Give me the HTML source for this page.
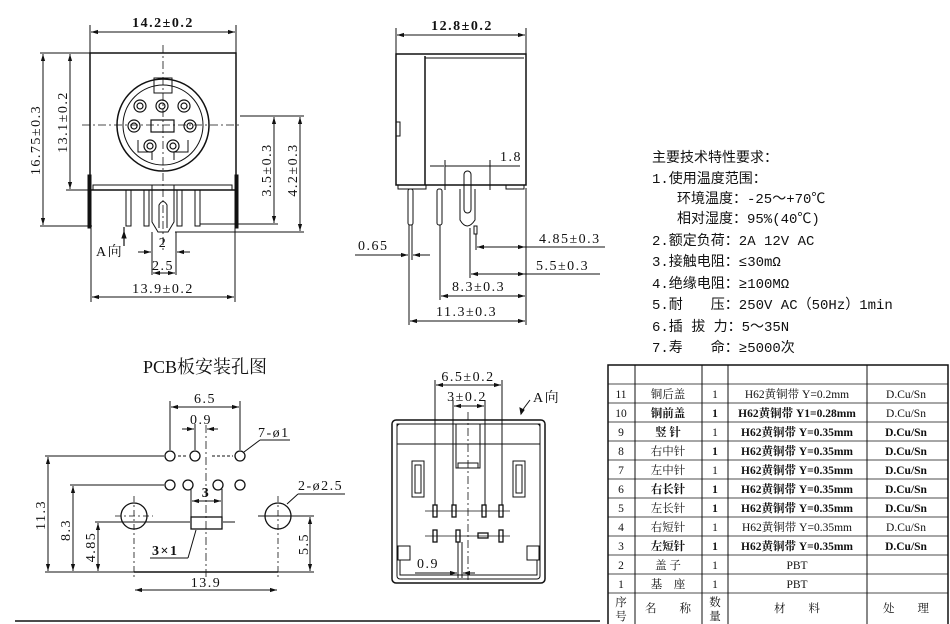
<!DOCTYPE html>
<html><head><meta charset="utf-8"><style>
html,body{margin:0;padding:0;background:#fff;}
svg{display:block;}
text{font-family:"Liberation Serif","Noto Serif CJK SC",serif;fill:#111;}
.d{font-size:14px;letter-spacing:1.5px;}
.b{font-weight:bold;}
.s{font-family:"Liberation Mono","Noto Sans CJK SC",monospace;font-size:14px;}
.t{font-size:11.5px;}
</style></head><body>
<svg width="950" height="624" viewBox="0 0 950 624" xmlns="http://www.w3.org/2000/svg">
<defs>
<marker id="a" viewBox="0 0 10 10" refX="10" refY="5" markerWidth="7" markerHeight="7" orient="auto-start-reverse"><path d="M0,2L10,5L0,8z" fill="#111"/></marker>
</defs>
<g stroke="#111" fill="none" stroke-width="1">
<line x1="90" y1="25" x2="90" y2="53"/><line x1="236" y1="25" x2="236" y2="53"/>
<line x1="91" y1="32" x2="235" y2="32" marker-start="url(#a)" marker-end="url(#a)"/>
<rect x="90" y="53" width="146" height="137" stroke-width="1.5"/>
<line x1="40" y1="53" x2="90" y2="53"/><line x1="40" y1="226" x2="92" y2="226"/>
<line x1="43" y1="54" x2="43" y2="225" marker-start="url(#a)" marker-end="url(#a)"/>
<line x1="66" y1="190" x2="95" y2="190"/>
<line x1="70" y1="54" x2="70" y2="189" marker-start="url(#a)" marker-end="url(#a)"/>
<circle cx="163" cy="125" r="46" stroke-width="1.5"/>
<circle cx="163" cy="125" r="40"/>
<rect x="154" y="78" width="18" height="15"/>
<path d="M138,140 L138,152 L152,152 L152,160 M188,140 L188,152 L174,152 L174,160"/>
<g stroke-width="1.2">
<circle cx="140" cy="106" r="6"/><circle cx="140" cy="106" r="3"/>
<circle cx="162" cy="106" r="6"/><circle cx="162" cy="106" r="3"/>
<circle cx="184" cy="106" r="6"/><circle cx="184" cy="106" r="3"/>
<circle cx="134" cy="126" r="6"/><circle cx="134" cy="126" r="3"/>
<circle cx="190" cy="126" r="6"/><circle cx="190" cy="126" r="3"/>
<circle cx="150" cy="146" r="6"/><circle cx="150" cy="146" r="3"/>
<circle cx="173" cy="146" r="6"/><circle cx="173" cy="146" r="3"/>
<rect x="151" y="120" width="23" height="12"/>
</g>
<line x1="163" y1="45" x2="163" y2="250" stroke-dasharray="8,3,2,3" stroke-width="0.8"/>
<line x1="82" y1="125" x2="240" y2="125" stroke-dasharray="8,3,2,3" stroke-width="0.8"/>
<rect x="93" y="185" width="139" height="5"/>
<rect x="88" y="175" width="3" height="53" fill="#111"/>
<rect x="235" y="175" width="3" height="53" fill="#111"/>
<rect x="126" y="190" width="5" height="36"/><rect x="144" y="190" width="5" height="36"/>
<rect x="177" y="190" width="5" height="36"/><rect x="195" y="190" width="5" height="36"/>
<path d="M152,185 L152,222 L158,232 L168,232 L174,222 L174,185"/>
<path d="M159,228 L159,205 Q163,198 167,205 L167,228"/>
<line x1="240" y1="116" x2="304" y2="116"/>
<line x1="274" y1="117" x2="274" y2="223" marker-start="url(#a)" marker-end="url(#a)"/>
<line x1="200" y1="224" x2="278" y2="224"/>
<line x1="300" y1="117" x2="300" y2="231" marker-start="url(#a)" marker-end="url(#a)"/>
<line x1="175" y1="232" x2="304" y2="232"/>
<line x1="124" y1="227" x2="124" y2="246" stroke-width="1.2"/>
<path d="M124,232 l-2,6 l4,0z" fill="#111"/>
<line x1="152" y1="232" x2="152" y2="275"/><line x1="176" y1="232" x2="176" y2="275"/>
<line x1="138" y1="252" x2="151" y2="252" marker-end="url(#a)"/><line x1="190" y1="252" x2="177" y2="252" marker-end="url(#a)"/>
<line x1="153" y1="273" x2="175" y2="273" marker-start="url(#a)" marker-end="url(#a)"/>
<line x1="91" y1="228" x2="91" y2="302"/><line x1="235" y1="228" x2="235" y2="302"/>
<line x1="92" y1="297" x2="234" y2="297" marker-start="url(#a)" marker-end="url(#a)"/>

<line x1="396" y1="28" x2="396" y2="55"/><line x1="526" y1="28" x2="526" y2="55"/>
<line x1="397" y1="35" x2="525" y2="35" marker-start="url(#a)" marker-end="url(#a)"/>
<rect x="396" y="54" width="130" height="131" stroke-width="1.5"/>
<line x1="425" y1="56" x2="425" y2="185" stroke-width="1.5"/>
<line x1="425" y1="58" x2="524" y2="58"/>
<rect x="396" y="122" width="4" height="14"/>
<rect x="398" y="185" width="28" height="4"/><rect x="506" y="185" width="18" height="4"/>
<rect x="408" y="189" width="5" height="36" rx="2"/><rect x="437" y="189" width="5" height="36" rx="2"/>
<path d="M460,189 L460,220 Q467,232 475,220 L475,189"/>
<rect x="464" y="171" width="7" height="42" rx="3.5"/>
<rect x="474" y="226" width="3" height="8"/>
<line x1="445" y1="160" x2="445" y2="190"/><line x1="490" y1="160" x2="490" y2="190" />
<line x1="445" y1="166" x2="520" y2="166"/>
<line x1="444" y1="166" x2="430" y2="166"/>
<line x1="526" y1="188" x2="526" y2="325"/>
<line x1="409" y1="225" x2="409" y2="325"/><line x1="412" y1="225" x2="412" y2="260"/>
<line x1="355" y1="255" x2="408" y2="255" marker-end="url(#a)"/><line x1="430" y1="255" x2="413" y2="255" marker-end="url(#a)"/>
<line x1="476" y1="234" x2="476" y2="250"/>
<line x1="477" y1="247" x2="525" y2="247" marker-start="url(#a)" marker-end="url(#a)"/><line x1="525" y1="247" x2="605" y2="247"/>
<line x1="470" y1="228" x2="470" y2="278"/>
<line x1="471" y1="274" x2="525" y2="274" marker-start="url(#a)" marker-end="url(#a)"/><line x1="525" y1="274" x2="600" y2="274"/>
<line x1="440" y1="225" x2="440" y2="300"/>
<line x1="441" y1="296" x2="525" y2="296" marker-start="url(#a)" marker-end="url(#a)"/>
<line x1="410" y1="321" x2="525" y2="321" marker-start="url(#a)" marker-end="url(#a)"/>

<line x1="170" y1="401" x2="170" y2="450"/><line x1="240" y1="401" x2="240" y2="450"/>
<line x1="171" y1="407" x2="239" y2="407" marker-start="url(#a)" marker-end="url(#a)"/>
<line x1="195" y1="424" x2="195" y2="450"/>
<line x1="182" y1="429" x2="194" y2="429" marker-end="url(#a)"/><line x1="218" y1="429" x2="207" y2="429" marker-end="url(#a)"/>
<line x1="206" y1="425" x2="206" y2="580" stroke-dasharray="8,3,2,3" stroke-width="0.8"/>
<g stroke-width="1.3">
<circle cx="170" cy="456" r="5"/><circle cx="195" cy="456" r="5"/><circle cx="240" cy="456" r="5"/>
<circle cx="170" cy="485" r="5"/><circle cx="188" cy="485" r="5"/><circle cx="218" cy="485" r="5"/><circle cx="240" cy="485" r="5"/>
<circle cx="134" cy="516" r="13"/><circle cx="278" cy="516" r="13"/>
<rect x="191" y="517" width="31" height="12"/>
</g>
<line x1="178" y1="456" x2="188" y2="456" stroke-dasharray="3,2"/><line x1="212" y1="456" x2="233" y2="456" stroke-dasharray="3,2"/>
<line x1="244" y1="452" x2="260" y2="440"/><line x1="260" y1="440" x2="290" y2="440"/>
<line x1="287" y1="504" x2="298" y2="494"/><line x1="298" y1="494" x2="345" y2="494"/>
<line x1="45" y1="456" x2="164" y2="456"/>
<line x1="48" y1="457" x2="48" y2="571" marker-start="url(#a)" marker-end="url(#a)"/>
<line x1="70" y1="485" x2="164" y2="485"/>
<line x1="73" y1="486" x2="73" y2="571" marker-start="url(#a)" marker-end="url(#a)"/>
<line x1="95" y1="522" x2="190" y2="522"/>
<line x1="98" y1="523" x2="98" y2="571" marker-start="url(#a)" marker-end="url(#a)"/>
<line x1="223" y1="522" x2="235" y2="522"/>
<line x1="115" y1="516" x2="153" y2="516" stroke-dasharray="6,3,2,3" stroke-width="0.8"/>
<line x1="258" y1="516" x2="314" y2="516"/>
<line x1="134" y1="496" x2="134" y2="580" stroke-dasharray="6,3,2,3" stroke-width="0.8"/>
<line x1="278" y1="496" x2="278" y2="580" stroke-dasharray="6,3,2,3" stroke-width="0.8"/>
<line x1="310" y1="517" x2="310" y2="571" marker-start="url(#a)" marker-end="url(#a)"/>
<line x1="45" y1="572" x2="314" y2="572"/>
<line x1="134" y1="572" x2="278" y2="572" stroke-width="1.5"/>
<line x1="191" y1="489" x2="191" y2="517"/><line x1="222" y1="489" x2="222" y2="517"/>
<line x1="192" y1="501" x2="221" y2="501" marker-start="url(#a)" marker-end="url(#a)"/>
<line x1="196" y1="530" x2="188" y2="558"/><line x1="188" y1="558" x2="150" y2="558"/>
<line x1="135" y1="590" x2="277" y2="590" marker-start="url(#a)" marker-end="url(#a)"/>
<line x1="15" y1="621" x2="600" y2="621" stroke-width="1.5"/>

<rect x="392" y="420" width="153" height="163" rx="4" stroke-width="1.5"/>
<rect x="397" y="424" width="143" height="155" rx="3"/>
<rect x="397" y="424" width="143" height="20"/>
<rect x="456" y="424" width="24" height="44"/>
<rect x="458" y="463" width="20" height="5"/>
<rect x="412" y="461" width="12" height="36"/><rect x="415" y="465" width="6" height="28"/>
<rect x="513" y="461" width="12" height="36"/><rect x="516" y="465" width="6" height="28"/>
<rect x="398" y="546" width="12" height="14"/><rect x="527" y="546" width="12" height="14"/>
<path d="M400,560 L400,575 L537,575 L537,560"/>
<g stroke-width="1.3">
<rect x="433" y="505" width="4" height="12"/><rect x="452" y="505" width="4" height="12"/>
<rect x="482" y="505" width="4" height="12"/><rect x="499" y="505" width="4" height="12"/>
<rect x="433" y="530" width="4" height="12"/><rect x="456" y="530" width="4" height="12"/>
<rect x="478" y="533" width="10" height="5"/><rect x="499" y="530" width="4" height="12"/>
</g>
<line x1="425" y1="511" x2="510" y2="511" stroke-width="0.7"/><line x1="425" y1="536" x2="510" y2="536" stroke-width="0.7"/>
<line x1="435" y1="380" x2="435" y2="505"/><line x1="502" y1="380" x2="502" y2="505"/>
<line x1="436" y1="385" x2="501" y2="385" marker-start="url(#a)" marker-end="url(#a)"/>
<line x1="453" y1="400" x2="453" y2="505"/><line x1="485" y1="400" x2="485" y2="505"/>
<line x1="454" y1="406" x2="484" y2="406" marker-start="url(#a)" marker-end="url(#a)"/>
<line x1="468" y1="412" x2="468" y2="580" stroke-dasharray="8,3,2,3" stroke-width="0.8"/>
<line x1="458" y1="542" x2="458" y2="578"/><line x1="462" y1="542" x2="462" y2="578"/>
<line x1="415" y1="573" x2="457" y2="573" marker-end="url(#a)"/><line x1="475" y1="573" x2="463" y2="573" marker-end="url(#a)"/>
<path d="M530,400 L524,408 L521,414"/><path d="M521,414 l-1,-6 l4,2z" fill="#111"/>

<rect x="608" y="365" width="340" height="262" stroke-width="1.5"/>
<line x1="635" y1="365" x2="635" y2="624"/><line x1="702" y1="365" x2="702" y2="624"/>
<line x1="728" y1="365" x2="728" y2="624"/><line x1="867" y1="365" x2="867" y2="624"/>
<g stroke-width="0.8">
<line x1="608" y1="384" x2="948" y2="384"/><line x1="608" y1="403" x2="948" y2="403"/>
<line x1="608" y1="422" x2="948" y2="422"/><line x1="608" y1="441" x2="948" y2="441"/>
<line x1="608" y1="460" x2="948" y2="460"/><line x1="608" y1="479" x2="948" y2="479"/>
<line x1="608" y1="498" x2="948" y2="498"/><line x1="608" y1="517" x2="948" y2="517"/>
<line x1="608" y1="536" x2="948" y2="536"/><line x1="608" y1="555" x2="948" y2="555"/>
<line x1="608" y1="574" x2="948" y2="574"/><line x1="608" y1="593" x2="948" y2="593"/>
</g>
</g>

<text x="163" y="27" class="d b" text-anchor="middle">14.2±0.2</text>
<text transform="translate(40,140) rotate(-90)" class="d" text-anchor="middle">16.75±0.3</text>
<text transform="translate(67,122) rotate(-90)" class="d" text-anchor="middle">13.1±0.2</text>
<text transform="translate(271,170) rotate(-90)" class="d" text-anchor="middle">3.5±0.3</text>
<text transform="translate(297,170) rotate(-90)" class="d" text-anchor="middle">4.2±0.3</text>
<text x="96" y="256" class="d">A向</text>
<text x="163" y="247" class="d" text-anchor="middle">2</text>
<text x="163" y="270" class="d" text-anchor="middle">2.5</text>
<text x="163" y="293" class="d" text-anchor="middle">13.9±0.2</text>

<text x="462" y="30" class="d b" text-anchor="middle">12.8±0.2</text>
<text x="511" y="161" class="d" text-anchor="middle">1.8</text>
<text x="358" y="250" class="d">0.65</text>
<text x="539" y="243" class="d">4.85±0.3</text>
<text x="536" y="270" class="d">5.5±0.3</text>
<text x="452" y="291" class="d">8.3±0.3</text>
<text x="436" y="316" class="d">11.3±0.3</text>

<text x="652" y="162" class="s">主要技术特性要求：</text>
<text x="652" y="183" class="s">1.使用温度范围：</text>
<text x="677" y="203" class="s">环境温度：-25～+70℃</text>
<text x="677" y="223" class="s">相对湿度：95%(40℃)</text>
<text x="652" y="245" class="s">2.额定负荷：2A 12V AC</text>
<text x="652" y="266" class="s">3.接触电阻：≤30mΩ</text>
<text x="652" y="288" class="s">4.绝缘电阻：≥100MΩ</text>
<text x="652" y="309" class="s">5.耐　　压：250V AC（50Hz）1min</text>
<text x="652" y="331" class="s">6.插 拔 力：5～35N</text>
<text x="652" y="352" class="s">7.寿　　命：≥5000次</text>

<text x="205" y="373" style="font-size:18px" text-anchor="middle">PCB板安装孔图</text>
<text x="205" y="403" class="d" text-anchor="middle">6.5</text>
<text x="201" y="424" class="d" text-anchor="middle">0.9</text>
<text x="258" y="437" class="d">7-ø1</text>
<text x="298" y="490" class="d">2-ø2.5</text>
<text x="206" y="497" class="d b" text-anchor="middle">3</text>
<text x="152" y="555" class="d b">3×1</text>
<text transform="translate(45,515) rotate(-90)" class="d" text-anchor="middle">11.3</text>
<text transform="translate(70,530) rotate(-90)" class="d" text-anchor="middle">8.3</text>
<text transform="translate(95,547) rotate(-90)" class="d" text-anchor="middle">4.85</text>
<text transform="translate(308,544) rotate(-90)" class="d" text-anchor="middle">5.5</text>
<text x="206" y="587" class="d" text-anchor="middle">13.9</text>

<text x="468" y="381" class="d" text-anchor="middle">6.5±0.2</text>
<text x="467" y="401" class="d" text-anchor="middle">3±0.2</text>
<text x="533" y="402" class="d">A向</text>
<text x="428" y="568" class="d" text-anchor="middle">0.9</text>

<g class="t" text-anchor="middle">
<text x="621" y="398">11</text><text x="668" y="398">铜后盖</text><text x="715" y="398">1</text><text x="797" y="398">H62黄铜带 Y=0.2mm</text><text x="906" y="398">D.Cu/Sn</text>
<text x="621" y="417">10</text><text x="668" y="417" class="b">铜前盖</text><text x="715" y="417" class="b">1</text><text x="797" y="417" class="b">H62黄铜带 Y1=0.28mm</text><text x="906" y="417">D.Cu/Sn</text>
<text x="621" y="436">9</text><text x="668" y="436" class="b">竖 针</text><text x="715" y="436">1</text><text x="797" y="436" class="b">H62黄铜带 Y=0.35mm</text><text x="906" y="436" class="b">D.Cu/Sn</text>
<text x="621" y="455">8</text><text x="668" y="455">右中针</text><text x="715" y="455" class="b">1</text><text x="797" y="455" class="b">H62黄铜带 Y=0.35mm</text><text x="906" y="455" class="b">D.Cu/Sn</text>
<text x="621" y="474">7</text><text x="668" y="474">左中针</text><text x="715" y="474">1</text><text x="797" y="474" class="b">H62黄铜带 Y=0.35mm</text><text x="906" y="474" class="b">D.Cu/Sn</text>
<text x="621" y="493">6</text><text x="668" y="493" class="b">右长针</text><text x="715" y="493" class="b">1</text><text x="797" y="493" class="b">H62黄铜带 Y=0.35mm</text><text x="906" y="493" class="b">D.Cu/Sn</text>
<text x="621" y="512">5</text><text x="668" y="512">左长针</text><text x="715" y="512" class="b">1</text><text x="797" y="512" class="b">H62黄铜带 Y=0.35mm</text><text x="906" y="512" class="b">D.Cu/Sn</text>
<text x="621" y="531">4</text><text x="668" y="531">右短针</text><text x="715" y="531">1</text><text x="797" y="531">H62黄铜带 Y=0.35mm</text><text x="906" y="531">D.Cu/Sn</text>
<text x="621" y="550">3</text><text x="668" y="550" class="b">左短针</text><text x="715" y="550" class="b">1</text><text x="797" y="550" class="b">H62黄铜带 Y=0.35mm</text><text x="906" y="550" class="b">D.Cu/Sn</text>
<text x="621" y="569">2</text><text x="668" y="569">盖 子</text><text x="715" y="569">1</text><text x="797" y="569">PBT</text>
<text x="621" y="588">1</text><text x="668" y="588">基　座</text><text x="715" y="588">1</text><text x="797" y="588">PBT</text>
<text x="621" y="606">序</text><text x="621" y="620">号</text><text x="668" y="612">名　　称</text><text x="715" y="606">数</text><text x="715" y="620">量</text><text x="797" y="612">材　　料</text><text x="906" y="612">处　　理</text>
</g>
</svg>
</body></html>
